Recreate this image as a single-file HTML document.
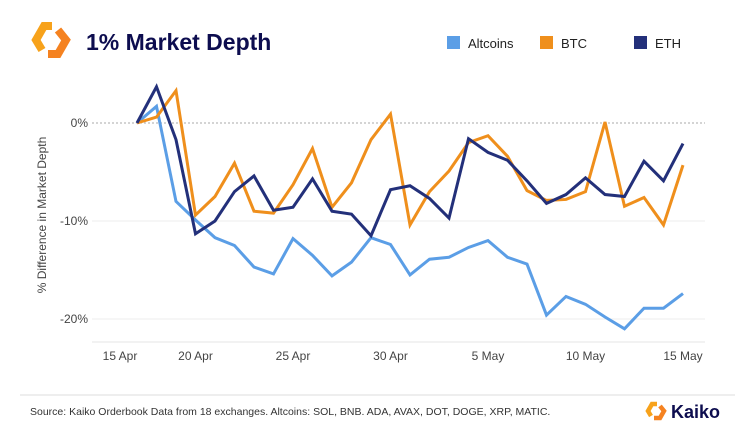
<!DOCTYPE html>
<html><head><meta charset="utf-8"><style>
body{margin:0;background:#fff;font-family:"Liberation Sans",sans-serif}
#wrap{position:relative;width:755px;height:443px;overflow:hidden;background:#fff}
</style></head><body>
<div id="wrap">
<svg width="755" height="443">
<g fill="none" stroke-width="8" stroke-linejoin="miter">
<polyline points="52,26 44,26 36,40 42,50" stroke="#f7a21b"/>
<polyline points="58,30 66,40 58,54 48,54" stroke="#f58220"/>
</g>
<text x="86" y="50" font-size="23" font-weight="bold" fill="#0d0d4f">1% Market Depth</text>
<g id="legend"></g>
<g id="plot"></g>
<text transform="translate(46,215) rotate(-90)" text-anchor="middle" font-size="12" fill="#444">% Difference in Market Depth</text>
<line x1="20" y1="395" x2="735" y2="395" stroke="#ddd"/>
<text x="30" y="415" font-size="10.5" fill="#333">Source: Kaiko Orderbook Data from 18 exchanges. Altcoins: SOL, BNB. ADA, AVAX, DOT, DOGE, XRP, MATIC.</text>
<g>
<g fill="none" stroke-width="4.5">
<polyline points="657,404 652,404 648,411 651,416" stroke="#f7a21b"/>
<polyline points="660,406 664,411 660,418 654,418" stroke="#f58220"/>
</g>
<text x="671" y="418" font-size="18" font-weight="bold" fill="#0d0d4f">Kaiko</text>
</g>
</svg>
</div>
<script>
const seriesNames=["Altcoins","BTC","ETH"];
const altcoins=[0,1.7,-8.0,-9.9,-11.7,-12.5,-14.7,-15.4,-11.8,-13.5,-15.6,-14.2,-11.7,-12.4,-15.5,-13.9,-13.7,-12.7,-12.0,-13.7,-14.4,-19.6,-17.7,-18.5,-19.8,-21.0,-18.9,-18.9,-17.4];
const btc=[0,0.6,3.3,-9.4,-7.5,-4.1,-9.0,-9.2,-6.3,-2.6,-8.6,-6.1,-1.7,0.9,-10.4,-7.0,-4.9,-2.0,-1.3,-3.4,-6.9,-7.9,-7.8,-7.0,0.1,-8.5,-7.6,-10.4,-4.3];
const eth=[0,3.7,-1.7,-11.3,-10,-7,-5.4,-8.9,-8.6,-5.7,-9.0,-9.3,-11.5,-6.8,-6.4,-7.7,-9.7,-1.6,-3.0,-3.8,-5.9,-8.2,-7.3,-5.6,-7.3,-7.5,-3.9,-5.9,-2.1];
const xTickLabels=["15 Apr","20 Apr","25 Apr","30 Apr","5 May","10 May","15 May"];
const xTickDays=[-2,3,8,13,18,23,28];
const yTicks=[0,-10,-20];
const yTickLabels=["0%","-10%","-20%"];
const colors=["#5b9ee6","#ef8f1c","#23307a"];
const NS="http://www.w3.org/2000/svg";
const x=i=>137+i*19.5;
const y=v=>123-v*9.8;
const plot=document.getElementById('plot');
function mk(t,a,p){const e=document.createElementNS(NS,t);for(const k in a)e.setAttribute(k,a[k]);p.appendChild(e);return e;}
yTicks.forEach((t,i)=>{
 const l=mk('line',{x1:92,x2:705,y1:y(t),y2:y(t),stroke:t===0?'#aaa':'#eee','stroke-dasharray':t===0?'2,2':'none'},plot);
 
 
 const tx=mk('text',{x:88,y:y(t)+4,'text-anchor':'end','font-size':12,fill:'#444'},plot);
 tx.textContent=yTickLabels[i];
 
 
});
const ax=mk('line',{x1:92,x2:705,y1:342,y2:342,stroke:'#e6e6e6'},plot);


xTickLabels.forEach((lab,i)=>{
 const t=mk('text',{x:Math.max(120,x(xTickDays[i])),y:360,'text-anchor':'middle','font-size':12,fill:'#444'},plot);
 t.textContent=lab;
 
 
});
[altcoins,btc,eth].forEach((s,k)=>{
 const p=mk('polyline',{points:s.map((v,i)=>x(i)+','+y(v)).join(' '),fill:'none',stroke:colors[k],'stroke-width':3,'stroke-linejoin':'miter'},plot);
 
 
});
const lg=document.getElementById('legend');
const lx=[447,540,634];
seriesNames.forEach((n,k)=>{
 const r=mk('rect',{x:lx[k],y:36,width:13,height:13,fill:colors[k]},lg);
 
 
 const t=mk('text',{x:lx[k]+21,y:48,'font-size':13,fill:'#222'},lg);
 t.textContent=n;
 
 
});
</script>
</body></html>
